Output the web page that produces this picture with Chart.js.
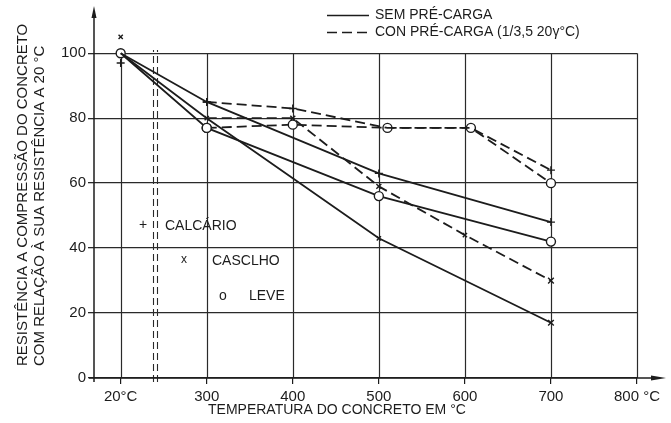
<!DOCTYPE html>
<html>
<head>
<meta charset="utf-8">
<script src="https://cdn.jsdelivr.net/npm/chart.js@4/dist/chart.umd.min.js"></script>
<style>
  html, body { margin: 0; padding: 0; background: #fff; }
  #wrap { width: 671px; height: 423px; position: relative; }
</style>
</head>
<body>
<div id="wrap"><canvas id="grafico" width="671" height="423"></canvas></div>
<script>
// Resistência à compressão (% da resistência a 20 °C) versus temperatura (°C)

// Sem pré-carga
const tempSem = [20, 300, 500, 700];
const calcarioSem = [100, 85, 63, 48];
const cascalhoSem = [100, 80, 43, 17];
const leveSem = [100, 77, 56, 42];

// Com pré-carga (1/3,5 da resistência a 20 °C)
const tempCalcarioCom = [300, 400, 510, 607, 700];
const calcarioCom = [85, 83, 77, 77, 64];
const tempCascalhoCom = [300, 400, 500, 600, 700];
const cascalhoCom = [80, 80, 59, 44, 30];
const tempLeveCom = [300, 400, 510, 607, 700];
const leveCom = [77, 78, 77, 77, 60];

// Dispersão dos ensaios a 20 °C
const temp20 = [20];
const cascalho20 = [105];
const calcario20 = [97];

// Marcas dos eixos
const xTicks = [20, 300, 400, 500, 600, 700, 800];
const yTicks = [0, 20, 40, 60, 80, 100];

// O eixo das temperaturas é interrompido entre 20 °C e 300 °C:
// 20 °C ocupa a posição de uma divisão antes de 300.
function eixo(t) { return t < 100 ? 200 : t; }
function rotuloX(v) {
  if (v === 200) return '20°C';
  if (v === 800) return '800 °C';
  return String(v);
}
function pontos(temps, vals) {
  return temps.map((t, i) => ({ x: eixo(t), y: vals[i] }));
}

const FONTE = '"Liberation Sans", Arial, Helvetica, sans-serif';
const TINTA = '#1c1c1c';

function serie(label, temps, vals, estilo, tracejado, raios) {
  return {
    label,
    data: pontos(temps, vals),
    showLine: true,
    borderColor: TINTA,
    borderWidth: 1.8,
    borderDash: tracejado ? [10, 5] : [],
    pointStyle: estilo,
    pointRadius: ctx => raios[ctx.dataIndex] || 0,
    pointBorderColor: TINTA,
    pointBackgroundColor: '#fff',
    pointBorderWidth: 1.4,
    tension: 0
  };
}

const datasets = [
  serie('Calcário sem pré-carga', tempSem, calcarioSem, 'cross', false, [0, 4, 4, 4]),
  serie('Cascalho sem pré-carga', tempSem, cascalhoSem, 'crossRot', false, [0, 3, 3, 4]),
  serie('Leve sem pré-carga', tempSem, leveSem, 'circle', false, [4.5, 4.5, 4.5, 4.5]),
  serie('Calcário com pré-carga', tempCalcarioCom, calcarioCom, 'cross', true, [4, 4, 0, 0, 4]),
  serie('Cascalho com pré-carga', tempCascalhoCom, cascalhoCom, 'crossRot', true, [0, 3.5, 3.5, 3, 4]),
  serie('Leve com pré-carga', tempLeveCom, leveCom, 'circle', true, [4.5, 4.5, 4.5, 4.5, 4.5]),
  {
    label: 'Cascalho a 20 °C', data: pontos(temp20, cascalho20), showLine: false,
    pointStyle: 'crossRot', pointRadius: 3, pointBorderColor: TINTA, pointBorderWidth: 1.4
  },
  {
    label: 'Calcário a 20 °C', data: pontos(temp20, calcario20), showLine: false,
    pointStyle: 'cross', pointRadius: 4, pointBorderColor: TINTA, pointBorderWidth: 1.4
  }
];

// Grade vertical, interrupção do eixo, eixos com setas, títulos e legendas
const decoracao = {
  id: 'decoracao',
  beforeDatasetsDraw(chart) {
    const { ctx, scales: { x, y } } = chart;
    ctx.save();
    ctx.strokeStyle = '#2a2a2a';
    ctx.lineWidth = 1.2;
    xTicks.forEach(t => {
      const px = Math.round(x.getPixelForValue(eixo(t))) + 0.5;
      ctx.beginPath();
      ctx.moveTo(px, y.getPixelForValue(0));
      ctx.lineTo(px, y.getPixelForValue(100));
      ctx.stroke();
    });
    // interrupção do eixo entre 20 °C e 300 °C
    ctx.setLineDash([7, 4]);
    ctx.lineWidth = 1.1;
    [238, 242.5].forEach(v => {
      const px = Math.round(x.getPixelForValue(v)) + 0.5;
      ctx.beginPath();
      ctx.moveTo(px, y.getPixelForValue(0) + 4);
      ctx.lineTo(px, y.getPixelForValue(101));
      ctx.stroke();
    });
    ctx.restore();
  },
  afterDraw(chart) {
    const { ctx, chartArea: a, scales: { x, y } } = chart;
    const y0 = y.getPixelForValue(0);
    const xl = a.left;
    ctx.save();
    ctx.strokeStyle = TINTA;
    ctx.fillStyle = TINTA;
    ctx.lineWidth = 1.5;
    // eixo vertical com seta
    ctx.beginPath();
    ctx.moveTo(xl, y0 + 4);
    ctx.lineTo(xl, 14);
    ctx.stroke();
    ctx.beginPath();
    ctx.moveTo(xl, 6);
    ctx.lineTo(xl - 2.5, 18);
    ctx.lineTo(xl + 2.5, 18);
    ctx.closePath();
    ctx.fill();
    // eixo horizontal com seta
    ctx.beginPath();
    ctx.moveTo(xl - 5, y0);
    ctx.lineTo(656, y0);
    ctx.stroke();
    ctx.beginPath();
    ctx.moveTo(666, y0);
    ctx.lineTo(651, y0 - 2.5);
    ctx.lineTo(651, y0 + 2.5);
    ctx.closePath();
    ctx.fill();

    // títulos dos eixos
    ctx.textBaseline = 'middle';
    ctx.font = '14px ' + FONTE;
    ctx.textAlign = 'left';
    ctx.fillText('TEMPERATURA DO CONCRETO EM °C', 208, 410);
    ctx.save();
    ctx.translate(0, 0);
    ctx.rotate(-Math.PI / 2);
    ctx.font = '15px ' + FONTE;
    ctx.fillText('RESISTÊNCIA A COMPRESSÃO DO CONCRETO', -366, 23);
    ctx.fillText('COM RELAÇÃO À SUA RESISTÊNCIA A 20 °C', -366, 40);
    ctx.restore();

    // legenda dos traços
    ctx.font = '14px ' + FONTE;
    ctx.lineWidth = 1.6;
    ctx.beginPath();
    ctx.moveTo(327, 15.5);
    ctx.lineTo(369, 15.5);
    ctx.stroke();
    ctx.fillText('SEM PRÉ-CARGA', 375, 15);
    ctx.setLineDash([10, 5]);
    ctx.beginPath();
    ctx.moveTo(327, 32.5);
    ctx.lineTo(372, 32.5);
    ctx.stroke();
    ctx.setLineDash([]);
    ctx.fillText('CON PRÉ-CARGA (1/3,5 20γ°C)', 375, 32);

    // legenda dos agregados
    ctx.font = '14px ' + FONTE;
    ctx.textAlign = 'center';
    ctx.fillText('+', 143, 225);
    ctx.font = '12px ' + FONTE;
    ctx.fillText('x', 184, 260);
    ctx.font = '14px ' + FONTE;
    ctx.fillText('o', 223, 296);
    ctx.textAlign = 'left';
    ctx.fillText('CALCÁRIO', 165, 226);
    ctx.fillText('CASCLHO', 212, 261);
    ctx.fillText('LEVE', 249, 296);
    ctx.restore();
  }
};

new Chart(document.getElementById('grafico'), {
  type: 'scatter',
  data: { datasets },
  options: {
    responsive: false,
    animation: false,
    devicePixelRatio: 1,
    layout: { padding: { top: 10, right: 34, bottom: 0, left: 0 } },
    plugins: { legend: { display: false }, tooltip: { enabled: false } },
    scales: {
      x: {
        type: 'linear',
        min: 169,
        max: 800,
        afterBuildTicks: s => { s.ticks = xTicks.map(t => ({ value: eixo(t) })); },
        afterFit: s => { s.height = 45; },
        ticks: {
          autoSkip: false, maxRotation: 0, padding: 4, color: TINTA,
          font: { family: FONTE, size: 15 },
          callback: v => rotuloX(v)
        },
        grid: { drawOnChartArea: false, drawTicks: true, tickLength: 6, color: TINTA, lineWidth: 1.2 },
        border: { display: false }
      },
      y: {
        min: 0,
        max: 113,
        afterBuildTicks: s => { s.ticks = yTicks.map(v => ({ value: v })); },
        afterFit: s => { s.width = 94; },
        ticks: { padding: 2, color: TINTA, font: { family: FONTE, size: 15 } },
        grid: { color: '#2a2a2a', lineWidth: 1.3, tickLength: 6 },
        border: { display: false }
      }
    }
  },
  plugins: [decoracao]
});
</script>
</body>
</html>
